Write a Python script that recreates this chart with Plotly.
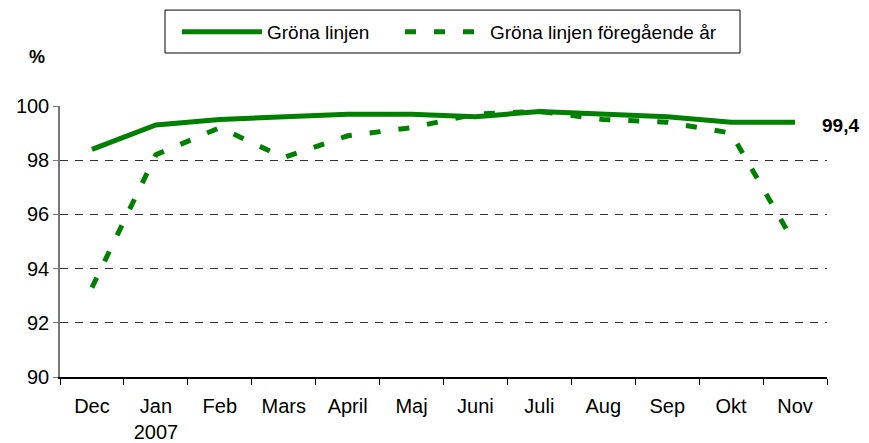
import plotly.graph_objects as go

months = ["Dec", "Jan<br>2007", "Feb", "Mars", "April", "Maj", "Juni", "Juli", "Aug", "Sep", "Okt", "Nov"]
grona_linjen = [98.4, 99.3, 99.5, 99.6, 99.7, 99.7, 99.6, 99.8, 99.7, 99.6, 99.4, 99.4]
grona_linjen_foregaende = [93.3, 98.2, 99.2, 98.1, 98.9, 99.2, 99.7, 99.8, 99.5, 99.4, 99.0, 94.9]
y_ticks = [90, 92, 94, 96, 98, 100]
last_label = "99,4"

GREEN = "#008000"
FONT = "Liberation Sans, Arial, sans-serif"

# the page adds an 8px body margin, so the figure is 8px smaller on each axis
W, H = 861, 435

fig = go.Figure()
fig.add_trace(go.Scatter(
    x=months, y=grona_linjen, mode="lines", name="Gröna linjen",
    line=dict(color=GREEN, width=5), legend="legend",
))
fig.add_trace(go.Scatter(
    x=months, y=grona_linjen_foregaende, mode="lines", name="Gröna linjen föregående år",
    line=dict(color=GREEN, width=5, dash="11px,18px"), legend="legend2",
))

fig.add_annotation(x=0.991, xref="paper", y=grona_linjen[-1], yref="y", yshift=-3,
                   text="<b>" + last_label + "</b>", showarrow=False,
                   xanchor="left", yanchor="middle", font=dict(size=19, color="black", family=FONT))
fig.add_annotation(x=-0.0306, xref="paper", y=1.179, yref="paper",
                   text="<b>%</b>", showarrow=False,
                   xanchor="center", yanchor="middle", font=dict(size=18, color="black", family=FONT))

# legend frame
fig.add_shape(type="rect", xref="paper", yref="paper",
              x0=0.1369, x1=0.8866, y0=1.1956, y1=1.354,
              line=dict(color="black", width=1), fillcolor="rgba(0,0,0,0)", layer="below")

legend_common = dict(
    orientation="h", yanchor="middle", xanchor="left", y=1.273,
    bgcolor="rgba(0,0,0,0)", borderwidth=0, itemwidth=80,
    font=dict(size=19, color="black", family=FONT),
)

fig.update_layout(
    width=W, height=H,
    margin=dict(l=52, r=42, t=98, b=66, autoexpand=False),
    paper_bgcolor="white", plot_bgcolor="white",
    font=dict(family=FONT, size=20, color="black"),
    showlegend=True,
    legend=dict(x=0.1525, **legend_common),
    legend2=dict(x=0.4433, **legend_common),
    xaxis=dict(
        type="category", range=[-0.5, 11.5], automargin=False,
        showline=True, linecolor="black", linewidth=1.5,
        ticks="outside", tickson="boundaries", ticklen=6, tickcolor="black",
        ticklabelstandoff=10,
        showgrid=False, tickfont=dict(size=20), fixedrange=True,
    ),
    yaxis=dict(
        range=[90, 100], tickvals=y_ticks, automargin=False,
        showline=True, linecolor="#777777", linewidth=1.5,
        ticks="outside", ticklen=5, tickcolor="#777777",
        showgrid=True, gridcolor="#333333", griddash="8px,7px", gridwidth=1,
        zeroline=False, tickfont=dict(size=20), fixedrange=True,
    ),
)

fig.write_html("out.html")
